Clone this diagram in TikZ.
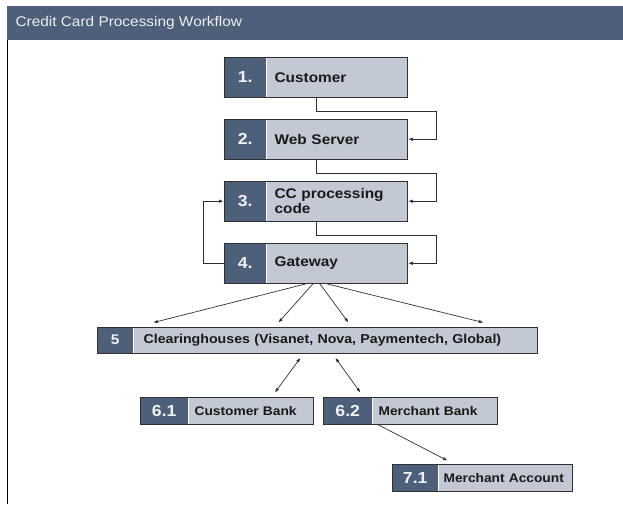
\documentclass[tikz,border=0pt]{standalone}
\usepackage{fontspec}
\setmainfont{Liberation Sans}[FakeStretch=1.1]
\usetikzlibrary{arrows.meta,fit}

\definecolor{slate}{HTML}{4E5F79}
\definecolor{pale}{HTML}{C3C9D4}
\definecolor{ink}{HTML}{303030}

\tikzset{
  numbox/.style={fill=slate, text=white!92!slate, inner sep=0pt, font=\bfseries\fontsize{16}{16}\selectfont},
  labbox/.style={fill=pale, text=black!90, inner xsep=8pt, inner ysep=0pt, align=left, font=\bfseries\fontsize{14}{15}\selectfont},
  smallbox/.style={labbox, font=\bfseries\fontsize{12.5}{13}\selectfont},
  outline/.style={draw=ink, line width=0.9pt, inner sep=0pt},
  link/.style={draw=ink, line width=0.7pt, -{Latex[length=4.5pt,width=3.5pt]}},
  duallink/.style={link, {Latex[length=4.5pt,width=3.5pt]}-{Latex[length=4.5pt,width=3.5pt]}}
}

\begin{document}
\begin{tikzpicture}[x=1pt,y=-1pt]
\useasboundingbox (0,0) rectangle (623,504);

% header
\node[fill=slate, minimum width=616pt, minimum height=34pt, inner sep=0pt, anchor=north west] (head) at (7,6) {};
\node[anchor=west, text=white!90!slate, font=\fontsize{14}{14}\selectfont] (title) at (12,23) {Credit Card Processing Workflow};
\draw[line width=0.9pt] (head.south west) -- (7,504);

% steps 1 to 4
\node[numbox, minimum width=42pt, minimum height=40pt, anchor=north west] (n1) at (224,57) {1.};
\node[labbox, text width=125pt, minimum height=40pt, anchor=west] (l1) at (n1.east) {Customer};
\node[outline, fit=(n1)(l1)] (s1) {};

\node[numbox, minimum width=42pt, minimum height=40pt, anchor=north west] (n2) at (224,119) {2.};
\node[labbox, text width=125pt, minimum height=40pt, anchor=west] (l2) at (n2.east) {Web Server};
\node[outline, fit=(n2)(l2)] (s2) {};

\node[numbox, minimum width=42pt, minimum height=40pt, anchor=north west] (n3) at (224,181) {3.};
\node[labbox, text width=125pt, minimum height=40pt, anchor=west] (l3) at (n3.east) {CC processing\\code};
\node[outline, fit=(n3)(l3)] (s3) {};

\node[numbox, minimum width=42pt, minimum height=40pt, anchor=north west] (n4) at (224,243) {4.};
\node[labbox, text width=125pt, minimum height=40pt, anchor=west] (l4) at (n4.east) {Gateway};
\node[outline, fit=(n4)(l4)] (s4) {};

% clearinghouses
\node[numbox, minimum width=36pt, minimum height=26pt, anchor=north west, font=\bfseries\fontsize{14}{14}\selectfont] (n5) at (97,327) {5};
\node[smallbox, text width=384pt, minimum height=26pt, anchor=west, inner xsep=10pt, font=\bfseries\fontsize{12.9}{13}\selectfont] (l5) at (n5.east) {Clearinghouses (Visanet, Nova, Paymentech, Global)};
\node[outline, fit=(n5)(l5)] (s5) {};

% banks and account
\node[numbox, minimum width=48pt, minimum height=27pt, anchor=north west] (n61) at (140,397) {6.1};
\node[smallbox, text width=113pt, minimum height=27pt, anchor=west, inner xsep=6pt] (l61) at (n61.east) {Customer Bank};
\node[outline, fit=(n61)(l61)] (s61) {};

\node[numbox, minimum width=49pt, minimum height=27pt, anchor=north west] (n62) at (323,397) {6.2};
\node[smallbox, text width=113pt, minimum height=27pt, anchor=west, inner xsep=6pt] (l62) at (n62.east) {Merchant Bank};
\node[outline, fit=(n62)(l62)] (s62) {};

\node[numbox, minimum width=46pt, minimum height=27pt, anchor=north west] (n71) at (392,464) {7.1};
\node[smallbox, text width=124pt, minimum height=27pt, anchor=west, inner xsep=5pt] (l71) at (n71.east) {Merchant Account};
\node[outline, fit=(n71)(l71)] (s71) {};

% step connectors
\draw[link] (s1.south) -- ++(0,13) -| ([xshift=28pt]s2.east) -- (s2.east);
\draw[link] (s2.south) -- ++(0,13) -| ([xshift=28pt]s3.east) -- (s3.east);
\draw[link] (s3.south) -- ++(0,13) -| ([xshift=28pt]s4.east) -- (s4.east);
\draw[link] (s4.west) -- ([xshift=-20pt]s4.west) |- (s3.west);

% fan out to clearinghouses
\draw[link] ([xshift=-10pt]s4.south) -- ([xshift=-164pt,yshift=4pt]s5.north);
\draw[link] ([xshift=-3pt]s4.south) -- ([xshift=-39pt,yshift=4pt]s5.north);
\draw[link] ([xshift=4pt]s4.south) -- ([xshift=31pt,yshift=4pt]s5.north);
\draw[link] ([xshift=11pt]s4.south) -- ([xshift=166pt,yshift=4pt]s5.north);

% banks
\draw[duallink] ([xshift=-17pt,yshift=-4pt]s5.south) -- ([xshift=48pt,yshift=4pt]s61.north);
\draw[duallink] ([xshift=18pt,yshift=-4pt]s5.south) -- ([xshift=-50pt,yshift=4pt]s62.north);
\draw[link] ([xshift=-32pt]s62.south) -- ([xshift=-35pt,yshift=3pt]s71.north);

\end{tikzpicture}
\end{document}
